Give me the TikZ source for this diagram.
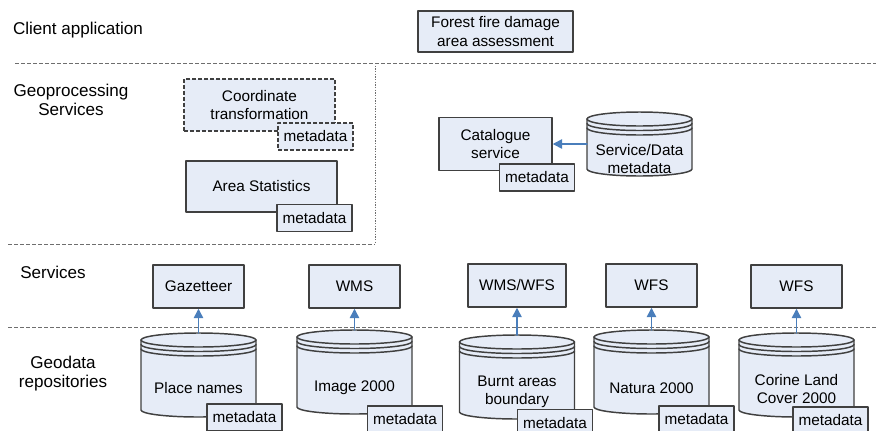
\documentclass[tikz,border=0pt]{standalone}
\usepackage{fontspec}
\setmainfont{Liberation Sans}
\usetikzlibrary{arrows.meta}
\definecolor{boxfill}{HTML}{E6ECF7}
\definecolor{boxline}{HTML}{404040}
\definecolor{arrowblue}{HTML}{4A7EBB}
\definecolor{sepgray}{HTML}{6E6E6E}
\newcommand{\px}{0.75pt}
\newcommand{\lblfont}{\fontsize{12.8}{14.3}\selectfont}
\newcommand{\boxfont}{\fontsize{11.5}{13.7}\selectfont}
% repository drum: name, x, top y, x radius, height, text, text y
\newcommand{\repo}[7]{%
  \node[inner sep=0pt,outer sep=0pt,minimum width=2*#4*\px,minimum height=#5*\px,anchor=north] (#1) at (#2,#3) {};
  \begin{scope}[shift={(#2,#3)}]
    \draw[drum] (-#4,7) -- (-#4,#5-7) arc[start angle=180,end angle=0,x radius=#4,y radius=7]
      -- (#4,7) arc[start angle=0,end angle=-180,x radius=#4,y radius=7] -- cycle;
    \draw[drum,fill=none] (-#4,7) arc[start angle=180,end angle=0,x radius=#4,y radius=7];
    \draw[drum,fill=none] (-#4,11.5) arc[start angle=180,end angle=0,x radius=#4,y radius=7];
    \draw[drum,fill=none] (-#4,16) arc[start angle=180,end angle=0,x radius=#4,y radius=7];
  \end{scope}
  \node[font=\boxfont,align=center] (#1-text) at (#2,#7) {#6};
}

\begin{document}
\begin{tikzpicture}[line cap=round,line join=round,x=0.75pt,y=-0.75pt,
    box/.style={draw=boxline,fill=boxfill,line width=1.1pt,font=\boxfont,align=center,inner sep=0pt},
    meta/.style={box,minimum width=75*\px,minimum height=27*\px},
    drum/.style={draw=boxline,fill=boxfill,line width=1.1pt},
    tentative/.style={line cap=butt,dash pattern=on 3pt off 1.5pt},
    layername/.style={font=\lblfont,align=center},
    sep/.style={draw=sepgray,line width=0.75pt,line cap=butt,dash pattern=on 3pt off 1.5pt},
    feed/.style={draw=arrowblue,line width=1.1pt,-{Triangle[width=7pt,length=7pt]}}]
  \useasboundingbox (0,0) rectangle (876,430);

  % layer separators
  \draw[sep] (15,63) -- (876,63);
  \draw[sep,dash pattern=on 1pt off 1pt] (375,63) -- (375,244);
  \draw[sep] (8,244) -- (375,244);
  \draw[sep] (8,327) -- (876,327);

  % layer names
  \node[layername] (client) at (78,30) {Client application};
  \node[layername] (geoproc) at (71,100) {Geoprocessing\\Services};
  \node[layername] (services) at (53,272) {Services};
  \node[layername] (geodata) at (63,374) {Geodata\\repositories};

  % client application
  \node[box,minimum width=155*\px,minimum height=41*\px] (fire) at (495.5,31.5) {Forest fire damage\\area assessment};

  % geoprocessing services
  \node[box,tentative,minimum width=151*\px,minimum height=52*\px] (coord) at (259.5,105) {Coordinate\\transformation};
  \node[meta,tentative] (coordmeta) at (315.5,136.5) {metadata};
  \node[box,minimum width=151*\px,minimum height=51*\px] (area) at (261.5,186.5) {Area Statistics};
  \node[meta] (areameta) at (314.5,218) {metadata};

  % catalogue
  \node[box,minimum width=113*\px,minimum height=53*\px] (cat) at (495.5,144) {Catalogue\\service};
  \node[meta] (catmeta) at (537,177.5) {metadata};
  \repo{sdmeta}{639.5}{112}{52.5}{64}{Service/Data\\metadata}{159}
  \draw[feed] (sdmeta.west) -- (cat.east);

  % services
  \node[box,minimum width=91*\px,minimum height=43*\px] (gaz) at (198.5,286.5) {Gazetteer};
  \node[box,minimum width=91*\px,minimum height=43*\px] (wms) at (354.5,286.5) {WMS};
  \node[box,minimum width=98*\px,minimum height=43*\px] (wmswfs) at (517,285.5) {WMS/WFS};
  \node[box,minimum width=91*\px,minimum height=43*\px] (wfsa) at (651.5,285.5) {WFS};
  \node[box,minimum width=91*\px,minimum height=43*\px] (wfsb) at (796.5,286.5) {WFS};

  % geodata repositories
  \repo{places}{198.5}{333}{57.5}{84}{Place names}{388}
  \node[meta] (placesmeta) at (244.5,417.5) {metadata};
  \repo{image}{354.5}{330}{57.5}{84}{Image 2000}{388}
  \node[meta] (imagemeta) at (405,419.5) {metadata};
  \repo{burnt}{517}{335}{57.5}{84}{Burnt areas\\boundary}{392}
  \node[meta] (burntmeta) at (555,423) {metadata};
  \repo{natura}{651.5}{330}{57.5}{84}{Natura 2000}{388}
  \node[meta] (naturameta) at (696.5,419.5) {metadata};
  \repo{corine}{796.5}{333}{57.5}{84}{Corine Land\\Cover 2000}{389}
  \node[meta] (corinemeta) at (830.5,420.5) {metadata};

  \draw[feed] (places.north) -- (gaz.south);
  \draw[feed] (image.north) -- (wms.south);
  \draw[feed] (burnt.north) -- (wmswfs.south);
  \draw[feed] (natura.north) -- (wfsa.south);
  \draw[feed] (corine.north) -- (wfsb.south);
\end{tikzpicture}
\end{document}
